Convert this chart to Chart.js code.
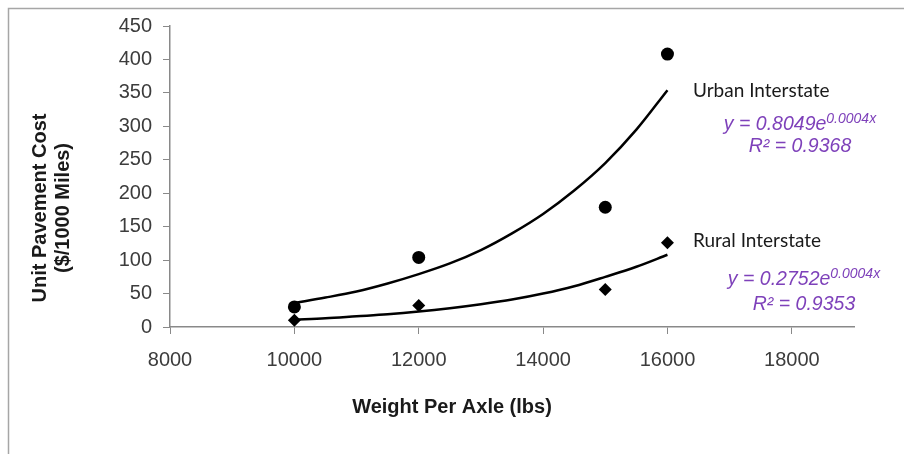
<!DOCTYPE html>
<html><head><meta charset="utf-8">
<script src="https://cdn.jsdelivr.net/npm/chart.js@4/dist/chart.umd.min.js"></script>
<style>html,body{margin:0;padding:0;background:#fff;overflow:hidden}#wrap{width:904px;height:454px;position:relative}</style>
</head><body><div id="wrap"><canvas id="c" width="904" height="454"></canvas></div>
<script>
const weights = [10000, 12000, 15000, 16000];
const urbanCost = [30, 104, 179, 408];
const ruralCost = [10, 32, 56, 126];
const trendWeights = [10000, 10500, 11000, 11500, 12000, 12500, 13000, 13500, 14000, 14500, 15000, 15500, 16000];
const urbanTrend = [36, 44, 53, 65, 79, 95, 115, 140, 169, 204, 245, 295, 354];
const ruralTrend = [11, 13, 16, 19, 23, 28, 34, 41, 50, 61, 75, 90, 108];
const xTicks = [8000, 10000, 12000, 14000, 16000, 18000];
const yTicks = [0, 50, 100, 150, 200, 250, 300, 350, 400, 450];
const seriesNames = ['Urban Interstate', 'Rural Interstate'];
const urbanEq = ['y = 0.8049e', '0.0004x', 'R² = 0.9368'];
const ruralEq = ['y = 0.2752e', '0.0004x', 'R² = 0.9353'];
const xTitle = 'Weight Per Axle (lbs)';
const yTitle = ['Unit Pavement Cost', '($/1000 Miles)'];

const pts = (xs, ys) => xs.map((x, i) => ({x: x, y: ys[i]}));
const AX = '#898989', TICK = '#3c3c3c', PURPLE = '#7E41BA', INK = '#1a1a1a';
const SANS = '"Liberation Sans", Arial, sans-serif';

const textPlugin = {
  id: 'texts',
  afterDraw(chart) {
    const ctx = chart.ctx;
    ctx.save();
    // outer frame
    ctx.strokeStyle = '#A6A6A6';
    ctx.lineWidth = 1.5;
    ctx.beginPath();
    ctx.moveTo(8.5, 454); ctx.lineTo(8.5, 8.5); ctx.lineTo(904, 8.5);
    ctx.stroke();
    // x title
    ctx.fillStyle = INK;
    ctx.font = 'bold 20px ' + SANS;
    ctx.textAlign = 'center'; ctx.textBaseline = 'middle';
    ctx.fillText(xTitle, 452, 407);
    // y title
    ctx.save();
    ctx.translate(40, 208); ctx.rotate(-Math.PI / 2);
    ctx.fillText(yTitle[0], 0, 0);
    ctx.restore();
    ctx.save();
    ctx.translate(63, 208); ctx.rotate(-Math.PI / 2);
    ctx.fillText(yTitle[1], 0, 0);
    ctx.restore();
    // series labels
    ctx.textAlign = 'left'; ctx.textBaseline = 'alphabetic';
    ctx.font = '19px Lato, "Open Sans", sans-serif';
    ctx.fillStyle = INK;
    ctx.fillText(seriesNames[0], 693, 97);
    ctx.fillText(seriesNames[1], 693, 247);
    // equations
    function eq(lines, cx, b1, b2) {
      ctx.fillStyle = PURPLE;
      const mainF = 'italic 19.5px ' + SANS, supF = 'italic 14px ' + SANS;
      ctx.font = mainF; const w1 = ctx.measureText(lines[0]).width;
      ctx.font = supF; const w2 = ctx.measureText(lines[1]).width;
      const x0 = cx - (w1 + w2) / 2;
      ctx.font = mainF; ctx.fillText(lines[0], x0, b1);
      ctx.font = supF; ctx.fillText(lines[1], x0 + w1, b1 - 7);
      ctx.font = mainF; const w3 = ctx.measureText(lines[2]).width;
      ctx.fillText(lines[2], cx - w3 / 2, b2);
    }
    eq(urbanEq, 800, 130, 152);
    eq(ruralEq, 804, 285, 310);
    ctx.restore();
  }
};

new Chart(document.getElementById('c'), {
  type: 'scatter',
  data: {
    datasets: [
      {label: 'Urban Interstate', data: pts(weights, urbanCost), pointStyle: 'circle', pointRadius: 6.5,
        backgroundColor: '#000', borderColor: '#000', borderWidth: 0, showLine: false},
      {label: 'Rural Interstate', data: pts(weights, ruralCost), pointStyle: 'rectRot', pointRadius: 6.5,
        backgroundColor: '#000', borderColor: '#000', borderWidth: 0, showLine: false},
      {label: 'Urban trend', data: pts(trendWeights, urbanTrend), showLine: true, pointRadius: 0,
        borderColor: '#000', borderWidth: 2.5, cubicInterpolationMode: 'monotone', fill: false},
      {label: 'Rural trend', data: pts(trendWeights, ruralTrend), showLine: true, pointRadius: 0,
        borderColor: '#000', borderWidth: 2.5, cubicInterpolationMode: 'monotone', fill: false}
    ]
  },
  options: {
    responsive: false, animation: false, devicePixelRatio: 1,
    layout: {padding: {top: 26, right: 50, left: 0, bottom: 0}},
    plugins: {legend: {display: false}, tooltip: {enabled: false}},
    scales: {
      x: {
        type: 'linear', min: 8000, max: 19000,
        afterBuildTicks: s => { s.ticks = xTicks.map(v => ({value: v})); },
        afterFit: s => { s.height = 127; },
        ticks: {font: {family: SANS, size: 20}, color: TICK, padding: 14, maxRotation: 0, autoSkip: false,
          callback: v => String(v)},
        grid: {drawOnChartArea: false, tickLength: 7, color: AX, lineWidth: 1},
        border: {display: true, color: AX, width: 1.5}
      },
      y: {
        type: 'linear', min: 0, max: 450,
        afterBuildTicks: s => { s.ticks = yTicks.map(v => ({value: v})); },
        afterFit: s => { s.width = 170; },
        ticks: {font: {family: SANS, size: 20}, color: TICK, padding: 11, autoSkip: false,
          callback: v => String(v)},
        grid: {drawOnChartArea: false, tickLength: 7, color: AX, lineWidth: 1},
        border: {display: true, color: AX, width: 1.5}
      }
    }
  },
  plugins: [textPlugin]
});
</script></body></html>
